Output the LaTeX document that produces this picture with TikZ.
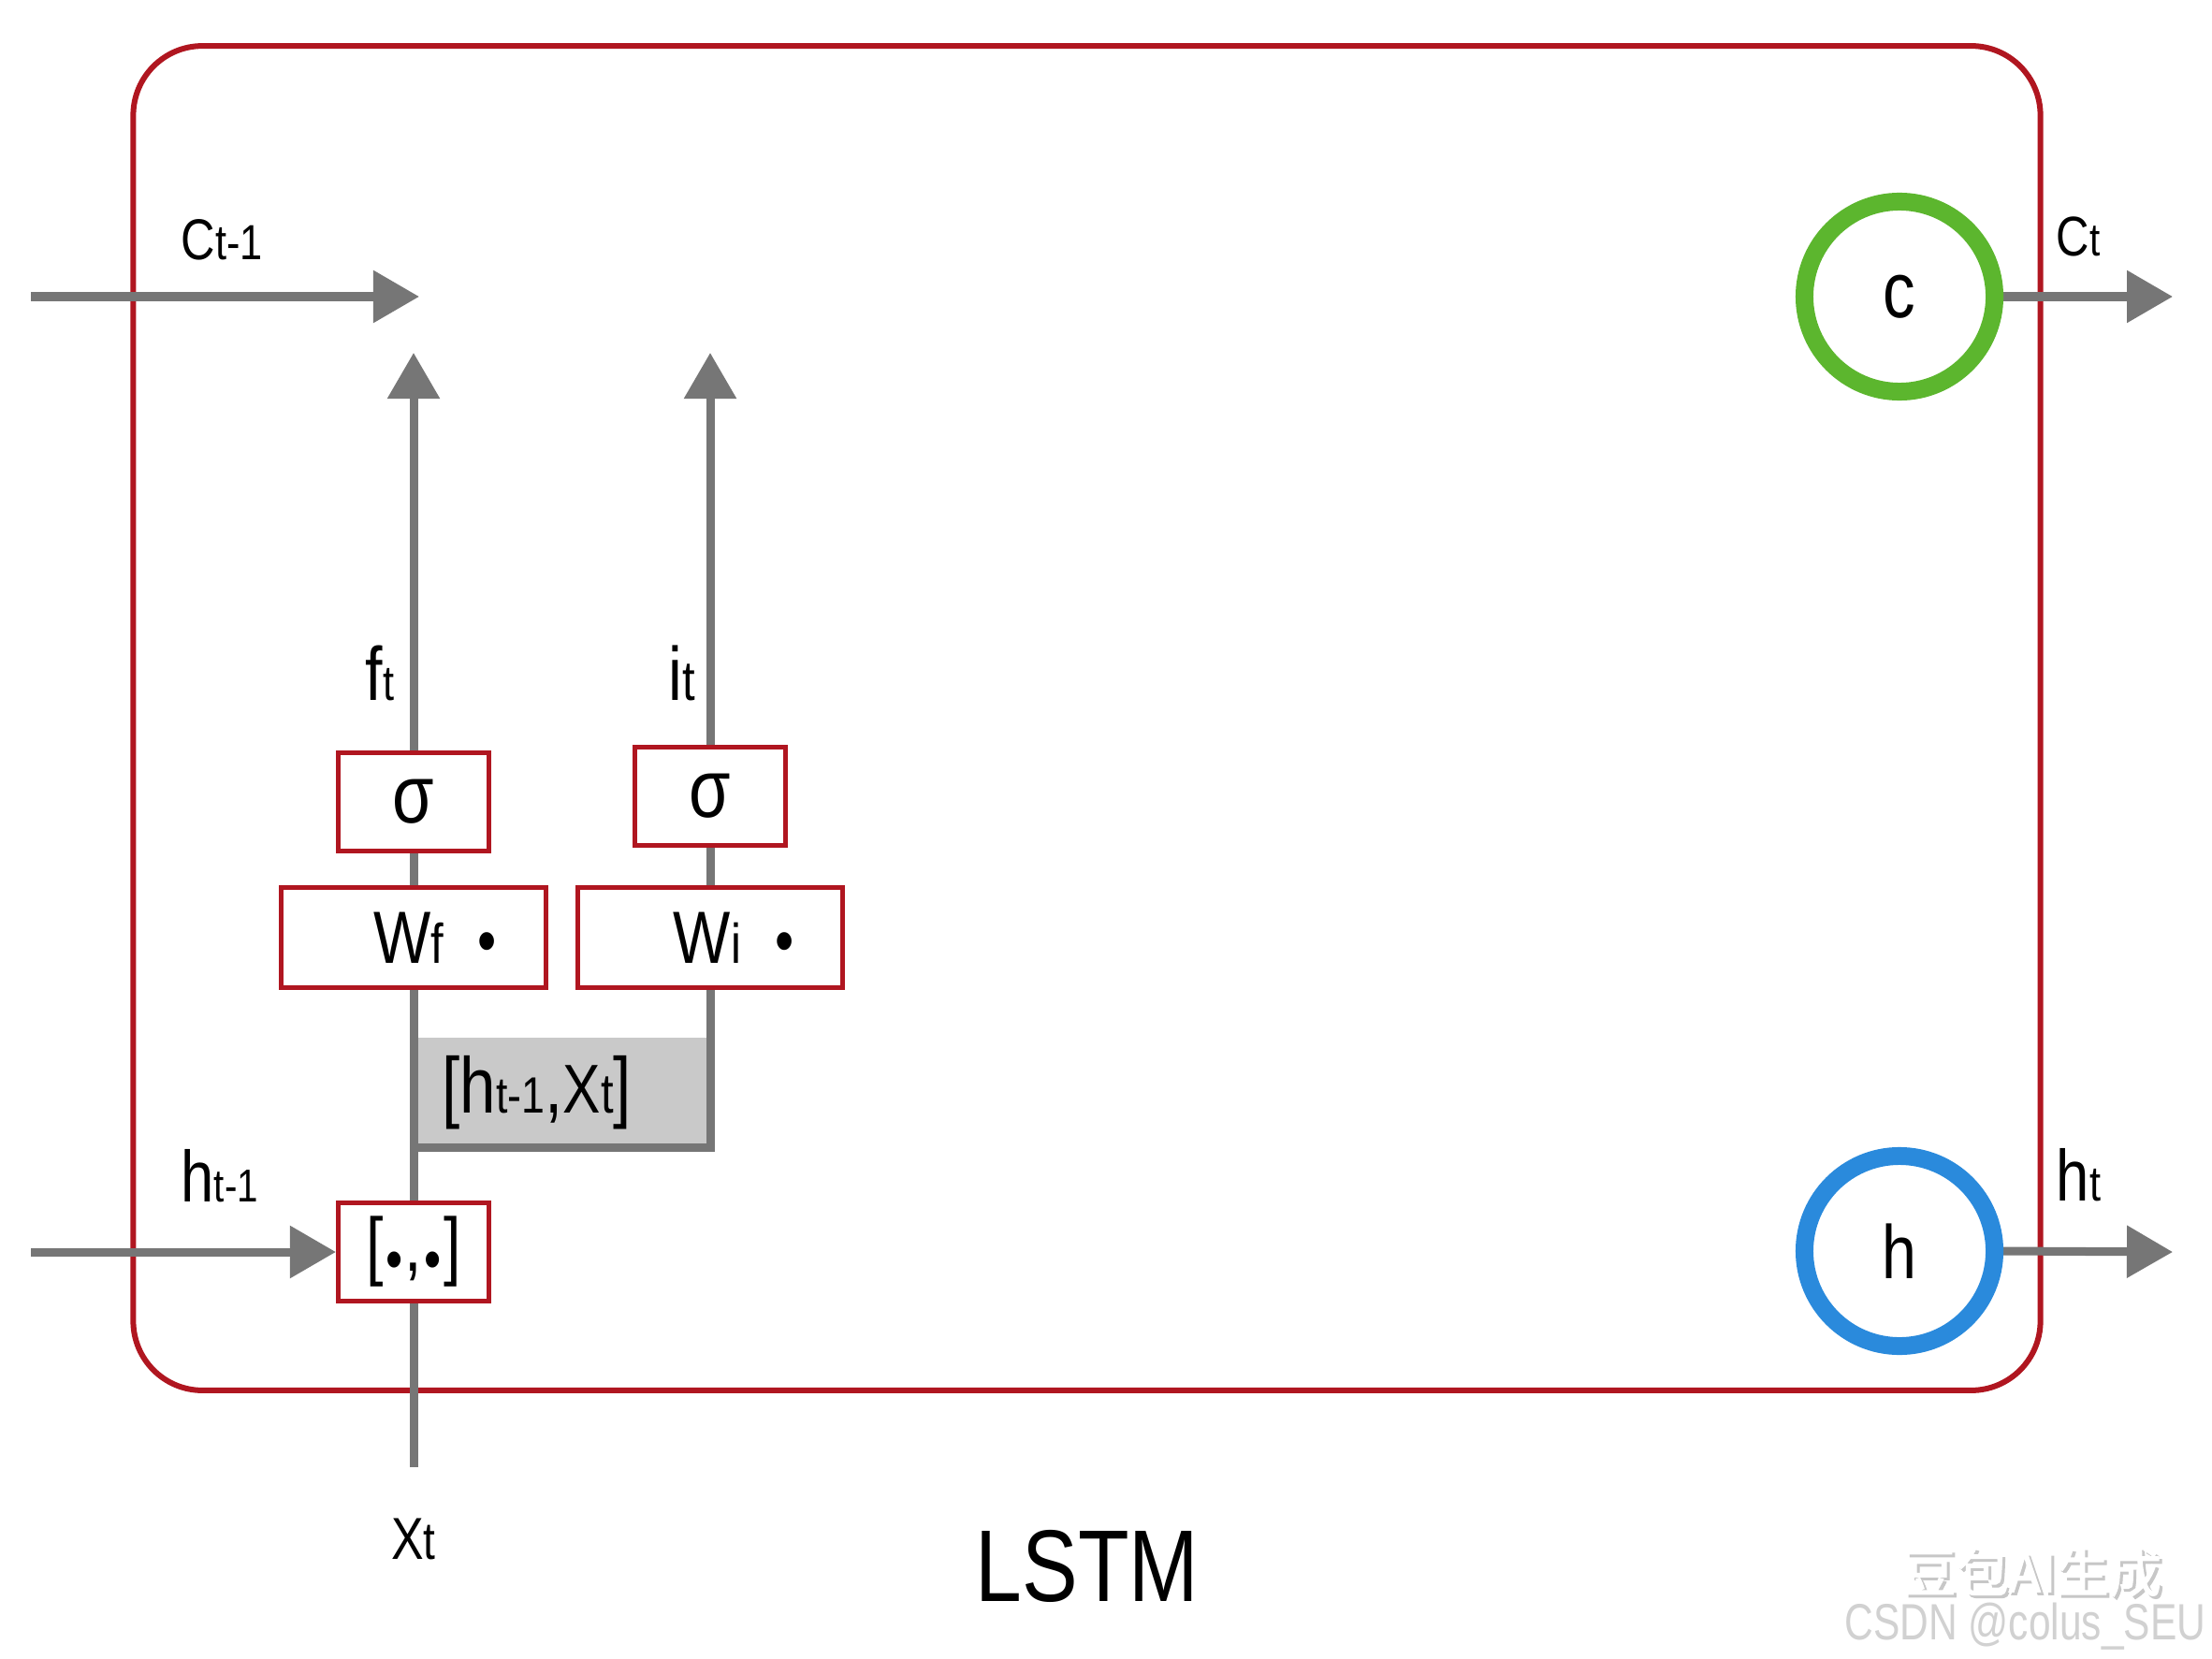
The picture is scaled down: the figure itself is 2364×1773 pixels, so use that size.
\documentclass[tikz,border=0pt]{standalone}
\usepackage{fontspec}
\setmainfont{Liberation Sans}[FakeStretch=0.82]
\newfontfamily\wmfont{Liberation Sans}[FakeStretch=0.78]
\newfontfamily\cjkfont{Noto Sans CJK SC}[FakeBold=2]
\usetikzlibrary{arrows.meta}
\pgfdeclarelayer{bg}
\pgfdeclarelayer{lines}
\pgfsetlayers{bg,lines,main}
\newcommand\fsz[1]{\fontsize{#1}{#1}\selectfont}
\definecolor{lgray}{RGB}{118,118,118}
\definecolor{rbox}{RGB}{176,22,32}
\definecolor{gfill}{RGB}{201,201,201}
\definecolor{cgreen}{RGB}{92,182,46}
\definecolor{hblue}{RGB}{42,138,220}
\tikzset{
  conn/.style={draw=lgray, line width=0.09cm},
  arr/.style={conn, -{Triangle[length=0.49cm,width=0.54cm]}},
  gatebox/.style={draw=rbox, line width=0.05cm, fill=white, inner sep=0pt},
  sigbox/.style={gatebox, minimum width=1.61cm, minimum height=1.04cm},
  wbox/.style={gatebox, minimum width=2.83cm, minimum height=1.07cm},
  statecirc/.style={circle, line width=0.19cm, minimum size=2.03cm, inner sep=0pt, fill=white},
  lbl/.style={inner sep=0pt, anchor=base west},
}
\begin{document}
\begin{tikzpicture}[x=0.01cm, y=-0.01cm]
\useasboundingbox (0,0) rectangle (2364,1773);

% background, outer cell, concatenation area
\begin{pgfonlayer}{bg}
\fill[white] (0,0) rectangle (2364,1773);
\node[draw=rbox, line width=0.06cm, rounded corners=0.74cm,
      minimum width=20.37cm, minimum height=14.36cm, inner sep=0pt] (cell) at (1161.5,767.5) {};
\node[fill=gfill, minimum width=3.17cm, minimum height=1.18cm, inner sep=0pt, anchor=north west]
  (concat) at (442,1108) {\fsz{24pt}[h\fsz{15.5pt}t-1\fsz{24pt},\fsz{21pt}X\fsz{17pt}t\fsz{24pt}]\hspace*{0.55cm}};
\end{pgfonlayer}

% free-end coordinates
\coordinate (cprevS) at (33,317);
\coordinate (cprevE) at (448,317);
\coordinate (hprevS) at (33,1338);
\coordinate (xbot) at (442,1568);
\coordinate (ftip) at (442,377);
\coordinate (itip) at (759,377);
\coordinate (gbr) at (759,1226);
\coordinate (gbl) at (442,1226);
\coordinate (ctE) at (2322,317);
\coordinate (htE) at (2322,1338);

% gate boxes
\node[sigbox] (sf) at (442,857) {\fsz{25pt}σ};
\node[sigbox] (si) at (759,851) {\fsz{25pt}σ};
\node[wbox] (Wf) at (442,1002) {\hspace*{0.46cm}\fsz{22.5pt}W\fsz{17pt}f\hspace{0.36cm}\fsz{20pt}•};
\node[wbox] (Wi) at (759,1002) {\hspace*{0.5cm}\fsz{22.5pt}W\fsz{17pt}i\hspace{0.36cm}\fsz{20pt}•};
\node[sigbox] (cat) at (442,1338) {\fsz{23pt}[\hspace{0.03cm}\raisebox{-0.1em}{\fsz{18pt}•}\hspace{0.02cm},\hspace{0.02cm}\raisebox{-0.1em}{\fsz{18pt}•}\hspace{0.03cm}]};

% state circles
\node[statecirc, draw=cgreen] (c) at (2030,317) {\fsz{24pt}c};
\node[statecirc, draw=hblue] (h) at (2030,1337) {\fsz{23pt}h};

% connectors
\begin{pgfonlayer}{lines}
\draw[arr] (cprevS) -- (cprevE);
\draw[arr] (hprevS) -- (cat.west);
\draw[conn] (xbot) -- (cat.south);
\draw[conn] (cat.north) -- (Wf.south);
\draw[conn] (Wf.north) -- (sf.south);
\draw[arr] (sf.north) -- (ftip);
\draw[conn] (Wi.south) -- (gbr) -- (gbl);
\draw[conn] (Wi.north) -- (si.south);
\draw[arr] (si.north) -- (itip);
\draw[arr] (c.east) -- (ctE);
\draw[arr] (h.east) -- (htE);
\end{pgfonlayer}

% labels
\node[lbl] (lcprev) at (193,278) {\fsz{17.5pt}C\fsz{15pt}t-1};
\node[lbl] (lhprev) at (193,1284) {\fsz{22pt}h\fsz{14pt}t-1};
\node[lbl] (lct) at (2197,274) {\fsz{17pt}C\fsz{14pt}t};
\node[lbl] (lht) at (2197,1283) {\fsz{22pt}h\fsz{15pt}t};
\node[lbl] (lft) at (390,748) {\fsz{23pt}f\fsz{15pt}t};
\node[lbl] (lit) at (714,748) {\fsz{23pt}i\fsz{17pt}t};
\node[inner sep=0pt, anchor=base] (lxt) at (442,1666) {\fsz{18pt}X\fsz{16pt}t};
\node[inner sep=0pt, anchor=base] (title) at (1162,1711) {\fsz{31pt}LSTM};

% watermark
\node[inner sep=0pt, text=black!22] (wm1s) at (2175,1683) {\cjkfont\fsz{16pt}豆包AI生成};
\node[inner sep=0pt, text=white] (wm1) at (2172,1680) {\cjkfont\fsz{16pt}豆包AI生成};
\node[inner sep=0pt, anchor=base east, text=black!18] (wm2) at (2358,1752) {\wmfont\fsz{15.5pt}CSDN @colus\_SEU};
\end{tikzpicture}
\end{document}
